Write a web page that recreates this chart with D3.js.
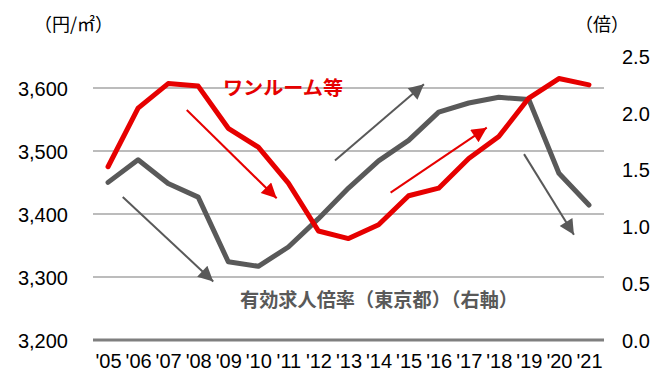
<!DOCTYPE html>
<html>
<head>
<meta charset="utf-8">
<script src="https://cdn.jsdelivr.net/npm/d3@7"></script>
<style>
  body { margin: 0; background: #fff; }
  text { font-family: "Liberation Sans", Arial, sans-serif; }
  .jp { font-family: "Noto Sans CJK JP", sans-serif; }
</style>
</head>
<body>
<script>
// data
const years = ['05', '06', '07', '08', '09', '10', '11', '12', '13', '14', '15', '16', '17', '18', '19', '20', '21'];
const rentValues = [3475, 3568, 3607, 3603, 3536, 3506, 3449, 3373, 3361, 3383, 3429, 3441, 3488, 3523, 3584, 3615, 3605];
const jobRatio = [1.39, 1.59, 1.38, 1.26, 0.69, 0.65, 0.82, 1.07, 1.34, 1.58, 1.76, 2.01, 2.09, 2.14, 2.12, 1.47, 1.19];
const leftTicks = [3200, 3300, 3400, 3500, 3600];
const rightTicks = [0, 0.5, 1.0, 1.5, 2.0, 2.5];

// annotation arrows in (year index, left-axis value)
const arrows = [
  { from: [2.62, 3565], to: [5.61, 3425], color: 'red' },
  { from: [0.49, 3427], to: [3.50, 3293], color: 'gray' },
  { from: [7.55, 3485], to: [10.51, 3606], color: 'gray' },
  { from: [9.40, 3434], to: [12.60, 3537], color: 'red' },
  { from: [13.84, 3495], to: [15.50, 3367], color: 'gray' }
];

const RED = '#e60000';
const GRAY = '#595959';

const width = 665;
const height = 374;

const svg = d3.select('body')
  .append('svg')
    .attr('width', width)
    .attr('height', height);

const x = d3.scalePoint().domain(years).range([93, 604]).padding(0.5);
const yL = d3.scaleLinear().domain([3200, 3650]).range([340, 56.5]);
const yR = d3.scaleLinear().domain([0, 2.5]).range([340, 56.5]);
const xi = d3.scaleLinear().domain([0, years.length - 1]).range([x(years[0]), x(years[years.length - 1])]);

// gridlines
svg.append('g')
  .selectAll('line')
  .data(leftTicks)
  .join('line')
    .attr('x1', 93)
    .attr('x2', 604)
    .attr('y1', d => yL(d))
    .attr('y2', d => yL(d))
    .attr('stroke', d => d === 3200 ? '#7f7f7f' : '#a6a6a6')
    .attr('stroke-width', d => d === 3200 ? 3 : 1.5);

const styleTicks = (g, dy) => {
  g.select('.domain').remove();
  g.selectAll('text')
    .attr('font-size', 20)
    .attr('font-family', '"Liberation Sans", Arial, sans-serif')
    .attr('fill', '#000')
    .attr('dy', dy);
};

// left axis
svg.append('g')
  .attr('transform', 'translate(68,0)')
  .call(d3.axisLeft(yL).tickValues(leftTicks).tickSize(0).tickPadding(0).tickFormat(d3.format(',')))
  .call(styleTicks, '0.35em');

// right axis
svg.append('g')
  .attr('transform', 'translate(622,0)')
  .call(d3.axisRight(yR).tickValues(rightTicks).tickSize(0).tickPadding(0).tickFormat(d3.format('.1f')))
  .call(styleTicks, '0.35em');

// x axis
svg.append('g')
  .attr('transform', 'translate(0,354)')
  .call(d3.axisBottom(x).tickSize(0).tickPadding(0).tickFormat(d => "'" + d))
  .call(styleTicks, '0.71em');

// arrow markers
const defs = svg.append('defs');
[['red', RED], ['gray', GRAY]].forEach(([name, col]) => {
  defs.append('marker')
    .attr('id', 'head-' + name)
    .attr('viewBox', '0 0 10 10')
    .attr('refX', 10)
    .attr('refY', 5)
    .attr('markerUnits', 'userSpaceOnUse')
    .attr('markerWidth', 17)
    .attr('markerHeight', 15)
    .attr('orient', 'auto')
    .append('path')
      .attr('d', 'M0,0 L10,5 L0,10 Z')
      .attr('fill', col);
});

svg.append('g')
  .selectAll('line')
  .data(arrows)
  .join('line')
    .attr('x1', d => xi(d.from[0]))
    .attr('y1', d => yL(d.from[1]))
    .attr('x2', d => xi(d.to[0]))
    .attr('y2', d => yL(d.to[1]))
    .attr('stroke', d => d.color === 'red' ? RED : GRAY)
    .attr('stroke-width', 2)
    .attr('marker-end', d => `url(#head-${d.color})`);

// series lines
const rentLine = d3.line()
  .x((d, i) => x(years[i]))
  .y(d => yL(d));
const ratioLine = d3.line()
  .x((d, i) => x(years[i]))
  .y(d => yR(d));

svg.append('path')
  .datum(jobRatio)
  .attr('d', ratioLine)
  .attr('fill', 'none')
  .attr('stroke', GRAY)
  .attr('stroke-width', 5)
  .attr('stroke-linejoin', 'round')
  .attr('stroke-linecap', 'round');

svg.append('path')
  .datum(rentValues)
  .attr('d', rentLine)
  .attr('fill', 'none')
  .attr('stroke', RED)
  .attr('stroke-width', 5)
  .attr('stroke-linejoin', 'round')
  .attr('stroke-linecap', 'round');

// labels
svg.append('text')
  .attr('class', 'jp')
  .attr('x', 223)
  .attr('y', 95)
  .attr('font-size', 19)
  .attr('font-weight', 'bold')
  .attr('fill', RED)
  .attr('textLength', 120)
  .attr('lengthAdjust', 'spacingAndGlyphs')
  .text('ワンルーム等');

svg.append('text')
  .attr('class', 'jp')
  .attr('x', 240)
  .attr('y', 307)
  .attr('font-size', 19)
  .attr('font-weight', 'bold')
  .attr('fill', GRAY)
  .attr('textLength', 278)
  .attr('lengthAdjust', 'spacingAndGlyphs')
  .text('有効求人倍率（東京都）（右軸）');

svg.append('text')
  .attr('class', 'jp')
  .attr('x', 34)
  .attr('y', 31)
  .attr('font-size', 18)
  .attr('fill', '#000')
  .text('（円/㎡）');

svg.append('text')
  .attr('class', 'jp')
  .attr('x', 575)
  .attr('y', 31)
  .attr('font-size', 18)
  .attr('fill', '#000')
  .text('（倍）');
</script>
</body>
</html>
